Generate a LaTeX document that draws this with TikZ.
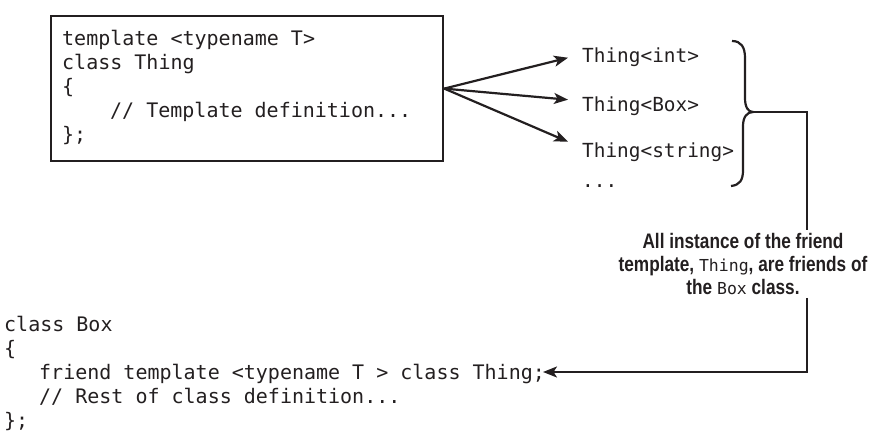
\documentclass[tikz,border=0pt]{standalone}
\usepackage{fontspec}
\newfontfamily\codefont{DejaVu Sans Mono}
\newfontfamily\capfont[FakeStretch=0.82]{Liberation Sans}
\usetikzlibrary{arrows.meta}
\definecolor{ink}{HTML}{231F20}
\begin{document}
\begin{tikzpicture}[x=1pt,y=-1pt,
  code/.style={font=\codefont\fontsize{20}{24}\selectfont, align=left, inner sep=0pt, text=ink},
  inst/.style={font=\codefont\fontsize{19.4}{24}\selectfont, inner xsep=14pt, inner ysep=0pt, anchor=base west, text=ink},
  conn/.style={line width=2.2pt, draw=ink},
  arr/.style={conn, -{Stealth[length=14pt,width=11pt,inset=3.5pt]}},
  note/.style={font=\capfont\bfseries\fontsize{21}{23}\selectfont, align=center, text=ink, inner xsep=0pt, inner ysep=3pt}
]
\useasboundingbox (0,0) rectangle (874,441);

% template box
\node[draw=ink, line width=2.2pt, minimum width=392pt, minimum height=145pt, anchor=north west, inner sep=0pt] (tplbox) at (50,15) {};
\node[code, anchor=north west] (tpltext) at (62,30) {template <typename T>\\class Thing\\\{\\\hspace*{48pt}// Template definition...\\\};};

% instances
\node[inst] (tint) at (568,63) {Thing<int>};
\node[inst] (tbox) at (568,111) {Thing<Box>};
\node[inst] (tstr) at (568,157) {Thing<string>};
\node[inst] (tdots) at (568,187) {...};

\draw[arr] (tplbox.east) -- (tint.west);
\draw[arr] (tplbox.east) -- ([yshift=6pt]tbox.west);
\draw[arr] (tplbox.east) -- ([yshift=10pt]tstr.west);

% brace
\coordinate (bt) at (753,112);
\draw[conn] (732,41) .. controls (741,41) and (745,47) .. (745,58) -- (745,98)
  .. controls (745,107) and (748,112) .. (bt)
  .. controls (747,112) and (743,117) .. (743,126) -- (743,170)
  .. controls (743,180) and (740,185) .. (731,186);

% note
\node[note] (cap) at (743,264) {All instance of the friend\\template, {\codefont\mdseries\fontsize{16.5}{23}\selectfont Thing}, are friends of\\the {\codefont\mdseries\fontsize{16.5}{23}\selectfont Box} class.};

% bottom code
\node[code, anchor=north west] (boxcode) at (4,316) {class Box\\\{\\\hspace*{35pt}friend template <typename T > class Thing;\\\hspace*{35pt}// Rest of class definition...\\\};};
\coordinate (fr) at (543,372);

\coordinate (elb) at (807,112);
\draw[conn] (bt) -- (elb) -- (elb |- cap.north);
\draw[arr] (elb |- cap.south) |- (fr);
\end{tikzpicture}
\end{document}
